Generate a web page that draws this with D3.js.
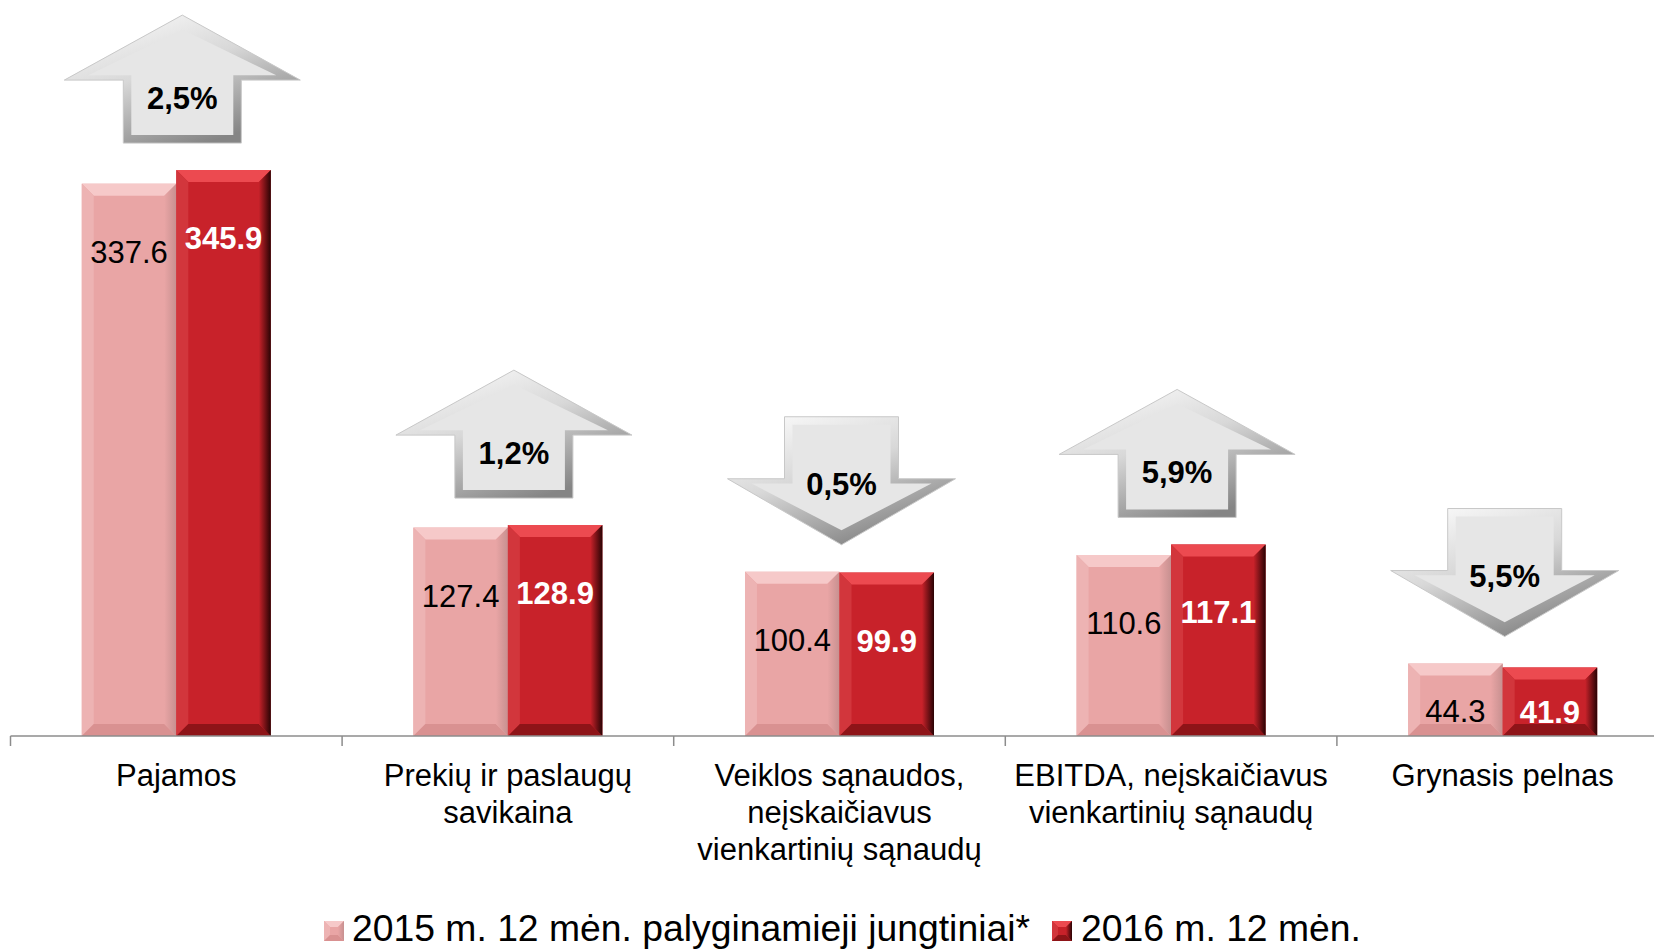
<!DOCTYPE html>
<html lang="lt">
<head>
<meta charset="UTF-8">
<title>Rezultatai 2016 m. 12 mėn.</title>
<script src="https://d3js.org/d3.v7.min.js"></script>
<style>
  body { margin: 0; background: #fff; font-family: "Liberation Sans", Arial, sans-serif; }
  svg text { font-family: "Liberation Sans", Arial, sans-serif; }
</style>
</head>
<body>
<script>
// data
const categories = [
  "Pajamos",
  "Prekių ir paslaugų\nsavikaina",
  "Veiklos sąnaudos,\nneįskaičiavus\nvienkartinių sąnaudų",
  "EBITDA, neįskaičiavus\nvienkartinių sąnaudų",
  "Grynasis pelnas"
];
const seriesNames = ["2015 m. 12 mėn. palyginamieji jungtiniai*", "2016 m. 12 mėn."];
const values2015 = [337.6, 127.4, 100.4, 110.6, 44.3];
const values2016 = [345.9, 128.9, 99.9, 117.1, 41.9];
const changeLabels = ["2,5%", "1,2%", "0,5%", "5,9%", "5,5%"];
const changeDir = ["up", "up", "down", "up", "down"];

const width = 1654, height = 950;
const baseY = 736;

const svg = d3.select("body").append("svg")
  .attr("width", width).attr("height", height);

const defs = svg.append("defs");

// scales
const x0 = d3.scaleBand().domain(categories).range([10.5, 10.5 + 5 * 331.6]);
const groupW = x0.bandwidth() * 0.57;
const x1 = d3.scaleBand().domain(seriesNames).range([0, groupW]);
const y = d3.scaleLinear().domain([0, 400]).range([baseY, baseY - 654.4]);

const styles = [
  { base: "#e9a5a5", top: "#f6c9c9", left: "#edb3b3", bottom: "#d99191", edge: "#c79090", label: "#000", weight: "normal" },
  { base: "#c8222a", top: "#ec4a50", left: "#d2363c", bottom: "#8e1418", edge: "#2a0304", label: "#fff", weight: "bold" }
];

styles.forEach((s, i) => {
  const g = defs.append("linearGradient").attr("id", "edge" + i)
    .attr("x1", 0).attr("x2", 1).attr("y1", 0).attr("y2", 0);
  g.append("stop").attr("offset", 0).attr("stop-color", s.base);
  g.append("stop").attr("offset", 1).attr("stop-color", s.edge);
});

const ag = defs.append("linearGradient").attr("id", "arrowGrad")
  .attr("x1", 0).attr("y1", 0).attr("x2", 0.6).attr("y2", 1);
ag.append("stop").attr("offset", 0).attr("stop-color", "#ffffff");
ag.append("stop").attr("offset", 0.5).attr("stop-color", "#d8d8d8");
ag.append("stop").attr("offset", 1).attr("stop-color", "#858585");

function bevelBar(g, x, yTop, w, h, s, i, b) {
  b = Math.min(b, h / 3);
  g.append("rect").attr("x", x).attr("y", yTop).attr("width", w).attr("height", h).attr("fill", s.base);
  const poly = pts => pts.map(p => p.join(",")).join(" ");
  g.append("polygon").attr("points", poly([[x, yTop], [x + w, yTop], [x + w - b, yTop + b], [x + b, yTop + b]])).attr("fill", s.top);
  g.append("polygon").attr("points", poly([[x, yTop], [x + b, yTop + b], [x + b, yTop + h - b], [x, yTop + h]])).attr("fill", s.left);
  g.append("polygon").attr("points", poly([[x, yTop + h], [x + b, yTop + h - b], [x + w - b, yTop + h - b], [x + w, yTop + h]])).attr("fill", s.bottom);
  g.append("polygon").attr("points", poly([[x + w, yTop], [x + w, yTop + h], [x + w - b, yTop + h - b], [x + w - b, yTop + b]])).attr("fill", "url(#edge" + i + ")");
}

// bars
const rows = categories.map((c, k) => ({ cat: c, vals: [values2015[k], values2016[k]] }));
const groups = svg.selectAll("g.grp").data(rows).join("g")
  .attr("class", "grp")
  .attr("transform", d => `translate(${x0(d.cat) + (x0.bandwidth() - groupW) / 2},0)`);

groups.each(function(d) {
  const g = d3.select(this);
  d.vals.forEach((v, i) => {
    const bx = x1(seriesNames[i]);
    const top = y(v), h = baseY - top;
    bevelBar(g, bx, top, x1.bandwidth(), h, styles[i], i, 12);
    const off = Math.min(68, h * 0.65);
    g.append("text")
      .attr("x", bx + x1.bandwidth() / 2)
      .attr("y", top + off + 11)
      .attr("text-anchor", "middle")
      .attr("font-size", 31)
      .attr("font-weight", styles[i].weight)
      .attr("fill", styles[i].label)
      .text(v.toFixed(1));
  });
});

// axis line and boundary ticks
svg.append("line").attr("x1", x0.range()[0]).attr("x2", width).attr("y1", baseY).attr("y2", baseY)
  .attr("stroke", "#8c8c8c").attr("stroke-width", 1.5);
const bounds = categories.map(c => x0(c));
svg.selectAll("line.tick").data(bounds).join("line").attr("class", "tick")
  .attr("x1", d => d).attr("x2", d => d).attr("y1", baseY).attr("y2", baseY + 10)
  .attr("stroke", "#8c8c8c").attr("stroke-width", 1.5);

// category labels
svg.selectAll("text.cat").data(categories).join("text").attr("class", "cat")
  .attr("text-anchor", "middle").attr("font-size", 31).attr("fill", "#000")
  .each(function(c) {
    const t = d3.select(this);
    c.split("\n").forEach((line, j) => {
      t.append("tspan").attr("x", x0(c) + x0.bandwidth() / 2).attr("y", 786 + j * 37).text(line);
    });
  });

// change arrows
function arrowPoints(dir, cx, t, d) {
  if (dir === "up") {
    const W = 236, S = 118, hh = 65, H = 128;
    if (!d) return [[cx, t], [cx + W / 2, t + hh], [cx + S / 2, t + hh], [cx + S / 2, t + H], [cx - S / 2, t + H], [cx - S / 2, t + hh], [cx - W / 2, t + hh]];
    return [[cx, t + d * 1.8], [cx + W / 2 - 3 * d, t + hh - 0.6 * d], [cx + S / 2 - d, t + hh - 0.6 * d], [cx + S / 2 - d, t + H - d],
            [cx - S / 2 + d, t + H - d], [cx - S / 2 + d, t + hh - 0.6 * d], [cx - W / 2 + 3 * d, t + hh - 0.6 * d]];
  }
  const W = 228, S = 114, sh = 62, H = 128;
  if (!d) return [[cx - S / 2, t], [cx + S / 2, t], [cx + S / 2, t + sh], [cx + W / 2, t + sh], [cx, t + H], [cx - W / 2, t + sh], [cx - S / 2, t + sh]];
  return [[cx - S / 2 + d, t + d], [cx + S / 2 - d, t + d], [cx + S / 2 - d, t + sh + 0.6 * d], [cx + W / 2 - 3 * d, t + sh + 0.6 * d],
          [cx, t + H - 1.8 * d], [cx - W / 2 + 3 * d, t + sh + 0.6 * d], [cx - S / 2 + d, t + sh + 0.6 * d]];
}

categories.forEach((c, k) => {
  const dir = changeDir[k];
  const cx = x0(c) + x0.bandwidth() / 2 + (dir === "up" ? 6 : 2);
  const t = y(Math.max(values2015[k], values2016[k])) - 155;
  const g = svg.append("g").attr("class", "arrow");
  g.append("polygon").attr("points", arrowPoints(dir, cx, t, 0).map(p => p.join(",")).join(" "))
    .attr("fill", "url(#arrowGrad)").attr("stroke", "#c8c8c8").attr("stroke-width", 1);
  g.append("polygon").attr("points", arrowPoints(dir, cx, t, 8).map(p => p.join(",")).join(" "))
    .attr("fill", "#e6e6e6");
  g.append("text").attr("x", cx).attr("y", t + (dir === "up" ? 83 : 67) + 11)
    .attr("text-anchor", "middle").attr("font-size", 31).attr("font-weight", "bold").attr("fill", "#000")
    .text(changeLabels[k]);
});

// legend
const legendItems = [{ x: 324, tx: 352 }, { x: 1052, tx: 1081 }];
seriesNames.forEach((name, i) => {
  const g = svg.append("g").attr("class", "legend");
  bevelBar(g, legendItems[i].x, 921, 20, 20, styles[i], i, 6);
  g.append("text").attr("x", legendItems[i].tx).attr("y", 941)
    .attr("font-size", 37.3).attr("fill", "#000").text(name);
});
</script>
</body>
</html>
